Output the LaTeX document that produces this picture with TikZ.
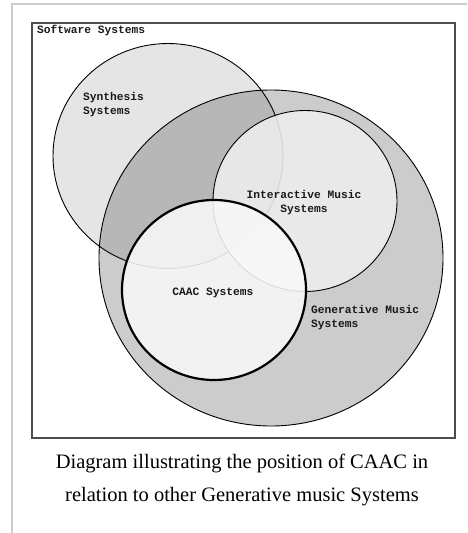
\documentclass[tikz,border=0pt]{standalone}
\usepackage{fontspec}
\setmainfont{Liberation Serif}
\newfontfamily\monolabel{Liberation Mono}
\usetikzlibrary{shapes.geometric}
\definecolor{thumbgray}{HTML}{C8CCD1}
\definecolor{framegray}{HTML}{4D4D4D}
\definecolor{gengray}{HTML}{CCCCCC}
\definecolor{intergray}{HTML}{EEEEEE}
\definecolor{caacgray}{HTML}{F8F8F8}
\definecolor{inkgray}{HTML}{1A1A1A}
\tikzset{
  setshape/.style={ellipse,draw=black,line width=0.9pt,inner sep=0pt},
  setlabel/.style={font=\monolabel\bfseries\fontsize{11.25}{14}\selectfont,
                   text=inkgray,inner sep=0pt},
  caption/.style={font=\fontsize{20.5}{33}\selectfont,align=center,inner sep=0pt}
}

\begin{document}
\begin{tikzpicture}[x=1pt,y=-1pt]
  \useasboundingbox (0,0) rectangle (467,533);
  % thumbnail border
  \coordinate (tl) at (12,4);
  \draw[thumbgray,line width=1.5pt] (tl|-0,533) -- (tl) -- (467,4);

  \node[draw=framegray,line width=1.8pt,minimum width=423pt,minimum height=415pt,
        inner sep=0pt,anchor=north west] (frame) at (31,22) {};

  % sets
  \node[setshape,fill=gengray,minimum width=344pt,minimum height=336pt] (gen) at (271,258) {};
  \node[setshape,fill=black,fill opacity=0.1,minimum width=230pt,minimum height=225pt]
    (synth) at (168,156) {};
  \node[setshape,fill=intergray,fill opacity=0.88,minimum width=184pt,minimum height=181pt]
    (inter) at (305,201) {};
  \node[setshape,fill=caacgray,fill opacity=0.88,line width=2.2pt,minimum width=184pt,
        minimum height=180pt] (caac) at (214,290) {};

  % labels
  \node[setlabel,anchor=west] (softlbl) at (37,31) {Software Systems};
  \node[setlabel,anchor=west,align=left] (synthlbl) at (83,105) {Synthesis\\Systems};
  \node[setlabel,align=center] (interlbl) at (304,203) {Interactive Music\\Systems};
  \node[setlabel] (caaclbl) at (213,293) {CAAC Systems};
  \node[setlabel,anchor=west,align=left] (genlbl) at (311,318) {Generative Music\\Systems};

  \node[caption] (cap) at (242,480)
    {Diagram illustrating the position of CAAC in\\relation to other Generative music Systems};
\end{tikzpicture}
\end{document}
